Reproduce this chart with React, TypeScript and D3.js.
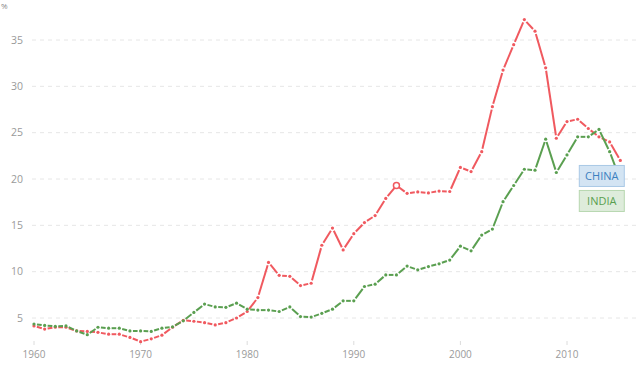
import * as d3 from 'd3';

const years = d3.range(1960, 2016);

const china = [
  4.15, 3.8, 4.0, 4.0, 3.6, 3.55, 3.45, 3.25, 3.25, 2.9,
  2.45, 2.75, 3.15, 4.0, 4.75, 4.65, 4.5, 4.25, 4.5, 5.0,
  5.7, 7.2, 11.0, 9.6, 9.5, 8.5, 8.75, 12.85, 14.7, 12.35,
  14.1, 15.3, 16.05, 17.9, 19.3, 18.45, 18.6, 18.5, 18.7, 18.65,
  21.25, 20.8, 22.95, 27.8, 31.75, 34.5, 37.2, 35.95, 32.0, 24.4,
  26.2, 26.45, 25.45, 24.55, 24.0, 22.0,
];

const india = [
  4.35, 4.2, 4.1, 4.15, 3.6, 3.2, 4.0, 3.9, 3.9, 3.6,
  3.6, 3.55, 3.9, 4.05, 4.7, 5.6, 6.5, 6.2, 6.15, 6.6,
  5.95, 5.85, 5.85, 5.7, 6.2, 5.15, 5.1, 5.5, 5.95, 6.85,
  6.85, 8.4, 8.65, 9.65, 9.65, 10.6, 10.2, 10.55, 10.85, 11.25,
  12.75, 12.25, 13.95, 14.6, 17.55, 19.3, 21.05, 20.95, 24.3, 20.7,
  22.6, 24.55, 24.55, 25.35, 22.95, 19.9,
];

const yTicks = [5, 10, 15, 20, 25, 30, 35];
const xTicks = [1960, 1970, 1980, 1990, 2000, 2010];

const series = [
  { name: 'CHINA', values: china, color: '#f0595f', fill: '#d3e4f3', border: '#a9c9e6', text: '#3b80c0' },
  { name: 'INDIA', values: india, color: '#5a9f50', fill: '#deecdb', border: '#b7d7b0', text: '#5a9f50' },
];

const FONT = '"Open Sans", "Noto Sans", sans-serif';

export default function App() {
  const width = 640;
  const height = 384;
  const x = d3.scaleLinear().domain([1960, 2015]).range([34, 620.3]);
  const y = d3.scaleLinear().domain([5, 35]).range([318, 40]);

  // draw each segment trimmed near the points, so dots sit in small gaps
  const segments = (vals: number[]) => {
    const out: { x1: number; y1: number; x2: number; y2: number }[] = [];
    for (let i = 0; i < vals.length - 1; i++) {
      const x1 = x(years[i]), y1 = y(vals[i]);
      const x2 = x(years[i + 1]), y2 = y(vals[i + 1]);
      const len = Math.hypot(x2 - x1, y2 - y1);
      const t = Math.min(3, len / 3) / len;
      out.push({
        x1: x1 + (x2 - x1) * t,
        y1: y1 + (y2 - y1) * t,
        x2: x2 - (x2 - x1) * t,
        y2: y2 - (y2 - y1) * t,
      });
    }
    return out;
  };

  const last = china.length - 1;
  const chinaBoxTop = y(china[last]) + 5;
  const boxW = 45;
  const boxH = 21;
  const boxX = x(2015) + 4 - boxW;

  return (
    <svg width={width} height={height} style={{ position: 'absolute', left: 0, top: 0, background: '#fff' }} fontFamily={FONT}>
      <text x={1} y={9} fontSize={8} fill="#888">%</text>

      {yTicks.map((t) => (
        <g key={t}>
          <line x1={32} x2={width} y1={y(t)} y2={y(t)} stroke="#e6e6e6" strokeDasharray="4,4" />
          <text x={23} y={y(t)} dy="0.35em" textAnchor="end" fontSize={10.5} fill="#9a9a9a">{t}</text>
        </g>
      ))}

      {xTicks.map((t) => (
        <g key={t}>
          <line x1={x(t)} x2={x(t)} y1={341} y2={345} stroke="#dcdcdc" />
          <text x={x(t)} y={354} dy="0.35em" textAnchor="middle" fontSize={10} fill="#9a9a9a">{t}</text>
        </g>
      ))}

      {series.map((s) => (
        <g key={s.name}>
          {segments(s.values).map((seg, i) => (
            <line key={i} {...seg} stroke={s.color} strokeWidth={2} />
          ))}
          {s.values.map((v, i) => (
            <circle key={i} cx={x(years[i])} cy={y(v)} r={1.6} fill={s.color} />
          ))}
        </g>
      ))}

      <circle cx={x(1994)} cy={y(china[1994 - 1960])} r={3} fill="#fff" stroke="#f0595f" strokeWidth={1.5} />

      {series.map((s, i) => {
        const top = chinaBoxTop + i * (boxH + 4);
        return (
          <g key={s.name}>
            <rect x={boxX} y={top} width={boxW} height={boxH} fill={s.fill} stroke={s.border} />
            <text x={boxX + boxW / 2} y={top + boxH / 2} dy="0.35em" textAnchor="middle" fontSize={11} fill={s.text}>{s.name}</text>
          </g>
        );
      })}
    </svg>
  );
}
